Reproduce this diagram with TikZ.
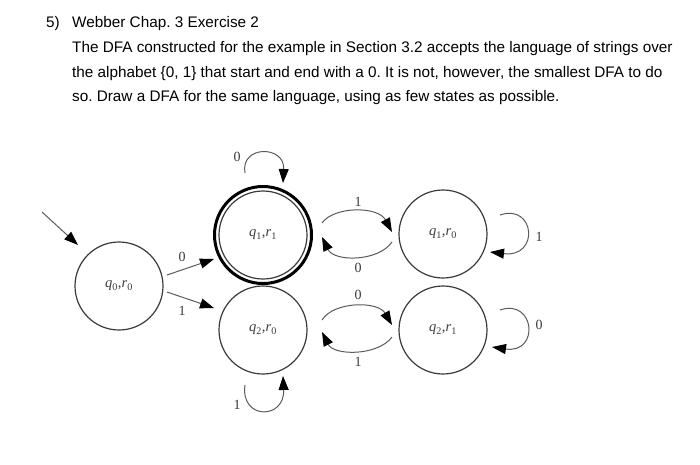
\documentclass[tikz,border=0pt]{standalone}
\usepackage{fontspec}
\setmainfont{Liberation Serif}
\newfontfamily\qsans{Liberation Sans}
\usetikzlibrary{arrows.meta,calc}
\frenchspacing
\definecolor{edgegray}{HTML}{5A5A5A}
\definecolor{labgray}{HTML}{3A3A3A}
\newcommand\stlab[2]{\textit{q}\textsubscript{#1},\textit{r}\textsubscript{#2}}
\tikzset{
  qtext/.style={anchor=base west, inner sep=0pt, font=\qsans\fontsize{15.3}{18}\selectfont, text=black},
  state/.style={circle, draw=labgray, line width=1.2pt, minimum size=88pt, inner sep=0pt,
    font=\fontsize{14.5}{16}\selectfont, text=labgray},
  edge/.style={draw=edgegray, line width=1pt, -{Triangle[length=14pt,width=10pt,color=black]}},
  elab/.style={font=\fontsize{14}{15}\selectfont, text=labgray, inner sep=0pt}
}
\begin{document}
\begin{tikzpicture}[x=1pt,y=-1pt]
\useasboundingbox (0,0) rectangle (700,464);
% question text
\node[qtext] (n5) at (46,27) {5)};
\node[qtext] (l1) at (72,27) {Webber Chap. 3 Exercise 2};
\node[qtext] (l2) at (72,52.5) {The DFA constructed for the example in Section 3.2 accepts the language of strings over};
\node[qtext] (l3) at (72,77) {the alphabet \{0, 1\} that start and end with a 0. It is not, however, the smallest DFA to do};
\node[qtext] (l4) at (72,101) {so. Draw a DFA for the same language, using as few states as possible.};
% states
\node[state] (q00) at (119,286) {\stlab{0}{0}};
\node[state] (q11) at (263,235) {\stlab{1}{1}};
\draw[black, line width=3pt] (q11.center) circle (48.5);
\node[state] (q10) at (443,234) {\stlab{1}{0}};
\node[state] (q20) at (263,330) {\stlab{2}{0}};
\node[state] (q21) at (443,330) {\stlab{2}{1}};
% free end of start arrow
\coordinate (st) at (42,212);
\draw[edge] (st) -- ($(q00)+(-41,-41)$);
% q00 -> q11, q20
\draw[edge] ($(q00)+(48,-11)$) -- ($(q11)+(-49,24)$);
\node[elab] (e1) at (182,257) {0};
\draw[edge] ($(q00)+(48,6)$) -- ($(q20)+(-49,-22)$);
\node[elab] (e2) at (182,311) {1};
% loop on q11
\draw[edge] ($(q11)+(-18,-62)$) .. controls ($(q11)+(-23,-90)$) and ($(q11)+(22,-90)$) .. ($(q11)+(20,-52)$);
\node[elab] (e3) at (237,157) {0};
% q11 <-> q10
\draw[edge] ($(q11)+(59,-12)$) .. controls ($(q11)+(71,-29)$) and ($(q10)+(-65,-28)$) .. ($(q10)+(-51,-2)$);
\node[elab] (e4) at (358,202) {1};
\draw[edge] ($(q10)+(-51,8)$) .. controls ($(q10)+(-65,28)$) and ($(q11)+(71,27)$) .. ($(q11)+(59,2)$);
\node[elab] (e5) at (358,268) {0};
% loop on q10
\draw[edge] ($(q10)+(57,-19)$) .. controls ($(q10)+(92,-31)$) and ($(q10)+(97,24)$) .. ($(q10)+(47,18)$);
\node[elab] (e6) at (539,237) {1};
% q20 <-> q21
\draw[edge] ($(q20)+(59,-10)$) .. controls ($(q20)+(71,-29)$) and ($(q21)+(-65,-29)$) .. ($(q21)+(-51,-5)$);
\node[elab] (e7) at (358,295) {0};
\draw[edge] ($(q21)+(-51,7)$) .. controls ($(q21)+(-65,26)$) and ($(q20)+(71,26)$) .. ($(q20)+(59,2)$);
\node[elab] (e8) at (358,362) {1};
% loop on q21
\draw[edge] ($(q21)+(57,-20)$) .. controls ($(q21)+(92,-32)$) and ($(q21)+(97,24)$) .. ($(q21)+(49,17)$);
\node[elab] (e9) at (539,325) {0};
% loop on q20
\draw[edge] ($(q20)+(-18,55)$) .. controls ($(q20)+(-23,90)$) and ($(q20)+(22,90)$) .. ($(q20)+(20,46)$);
\node[elab] (e10) at (237,405) {1};
\end{tikzpicture}
\end{document}
